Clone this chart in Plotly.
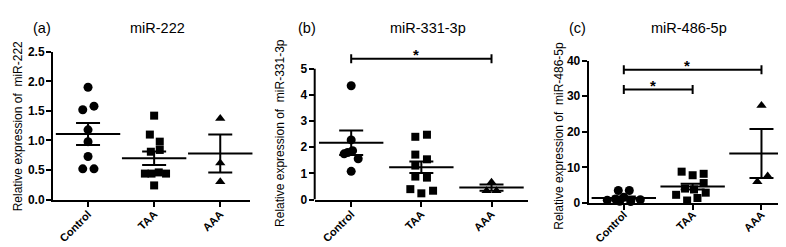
import plotly.graph_objects as go

categories = ["Control", "TAA", "AAA"]
panel_letters = ["(a)", "(b)", "(c)"]
panel_titles = ["miR-222", "miR-331-3p", "miR-486-5p"]
y_titles = ["Relative expression of\u00a0 miR-222",
            "Relative expression of\u00a0 miR-331-3p",
            "Relative expression of\u00a0 miR-486-5p"]

# ---- panel (a) miR-222 ----
a_control = [1.90, 1.52, 1.58, 1.18, 0.98, 0.73, 0.52, 0.52]
a_taa = [1.42, 1.10, 0.98, 0.81, 0.84, 0.44, 0.44, 0.46, 0.44, 0.24]
a_aaa = [1.37, 0.62, 0.30]
a_mean = [1.11, 0.70, 0.78]
a_sem = [0.185, 0.115, 0.32]
a_ticks = [0.0, 0.5, 1.0, 1.5, 2.0, 2.5]
a_ticktext = ["0.0", "0.5", "1.0", "1.5", "2.0", "2.5"]

# ---- panel (b) miR-331-3p ----
b_control = [4.35, 2.28, 1.87, 1.80, 1.75, 1.56, 1.08]
b_taa = [2.40, 2.48, 1.72, 1.54, 1.30, 0.88, 0.84, 0.40, 0.24, 0.34]
b_aaa = [0.66, 0.34, 0.34]
b_mean = [2.17, 1.24, 0.46]
b_sem = [0.47, 0.22, 0.12]
b_ticks = [0, 1, 2, 3, 4, 5]
b_ticktext = ["0", "1", "2", "3", "4", "5"]
b_sig = [(0, 2, 5.38)]

# ---- panel (c) miR-486-5p ----
c_control = [3.5, 3.5, 1.6, 1.1, 0.8, 0.5, 0.4, 0.9]
c_taa = [8.8, 7.8, 8.2, 5.6, 4.05, 3.8, 2.3, 2.9, 1.4, 0.7]
c_aaa = [27.4, 7.6, 6.0]
c_mean = [1.4, 4.6, 13.9]
c_sem = [0.45, 0.8, 6.9]
c_ticks = [0, 10, 20, 30, 40]
c_ticktext = ["0", "10", "20", "30", "40"]
c_sig = [(0, 2, 37.4), (0, 1, 31.9)]

# horizontal scatter (jitter) of points, in category units
a_jit = [[0, -0.08, 0.09, 0, 0, 0, -0.08, 0.09],
         [0, -0.065, 0.085, -0.05, 0.085, -0.14, -0.04, 0.07, 0.18, 0],
         [0, 0, 0]]
b_jit = [[0, 0, 0.02, -0.05, -0.1, 0.1, 0],
         [-0.086, 0.08, -0.086, 0.08, -0.086, -0.086, 0.08, -0.157, 0, 0.167],
         [0, -0.07, 0.07]]
c_jit = [[-0.08, 0.08, 0, -0.12, -0.24, -0.06, 0.1, 0.24],
         [-0.16, 0, 0.16, 0.16, -0.11, 0.02, -0.24, 0.19, 0.07, -0.08],
         [0, 0.09, -0.06]]

symbols = ["circle", "square", "triangle-up"]
sizes = [9, 8, 9]

panels = [
    dict(groups=[a_control, a_taa, a_aaa], jit=a_jit, mean=a_mean, sem=a_sem,
         ticks=a_ticks, ticktext=a_ticktext, yrange=[0, 2.5], sig=[], ytop=2.5,
         xdom=[45 / 786, 242 / 786], ydom=[1 - 195.7 / 247, 1 - 39 / 247],
         xrange=[-0.53, 2.45], standoff=-3),
    dict(groups=[b_control, b_taa, b_aaa], jit=b_jit, mean=b_mean, sem=b_sem,
         ticks=b_ticks, ticktext=b_ticktext, yrange=[0, 5.6], sig=b_sig, ytop=5,
         xdom=[306.7 / 786, 520 / 786], ydom=[1 - 195.7 / 247, 1 - 40.36 / 247],
         xrange=[-0.52, 2.52], standoff=-3),
    dict(groups=[c_control, c_taa, c_aaa], jit=c_jit, mean=c_mean, sem=c_sem,
         ticks=c_ticks, ticktext=c_ticktext, yrange=[0, 40], sig=c_sig, ytop=40,
         xdom=[580.7 / 786, 781.7 / 786], ydom=[1 - 199.3 / 247, 1 - 48.3 / 247],
         xrange=[-0.51, 2.41], standoff=-6),
]

fig = go.Figure()
shapes = []
annotations = []

tick_font = dict(family="Liberation Sans", size=12, color="black")
xtick_font = dict(family="Liberation Sans", size=11, color="black")


def bold(items):
    return ["<b>" + t + "</b>" for t in items]


for p_i, p in enumerate(panels):
    sfx = "" if p_i == 0 else str(p_i + 1)
    xa, ya = "x" + sfx, "y" + sfx
    for g_i, vals in enumerate(p["groups"]):
        xs = [g_i + j for j in p["jit"][g_i]]
        fig.add_trace(go.Scatter(
            x=xs, y=vals, mode="markers", xaxis=xa, yaxis=ya,
            marker=dict(symbol=symbols[g_i], size=sizes[g_i], color="black",
                        line=dict(width=0)),
            showlegend=False, cliponaxis=False))
    # mean line + SEM error bars
    fig.add_trace(go.Scatter(
        x=list(range(len(categories))), y=p["mean"], mode="markers",
        xaxis=xa, yaxis=ya,
        marker=dict(symbol="line-ew", size=46, color="black",
                    line=dict(width=2, color="black")),
        error_y=dict(type="data", array=p["sem"], visible=True,
                     color="black", thickness=2, width=12),
        showlegend=False, cliponaxis=False))

    axis_common = dict(showgrid=False, zeroline=False, ticks="outside",
                       ticklen=5, tickwidth=1.5, tickcolor="black",
                       linecolor="black", linewidth=2)
    fig.update_layout(**{
        ("xaxis" + sfx): dict(
            domain=p["xdom"], range=p["xrange"], anchor=ya,
            tickvals=list(range(len(categories))), ticktext=bold(categories),
            tickangle=-45, tickfont=xtick_font, showline=True,
            ticklabelstandoff=p["standoff"], **axis_common),
        ("yaxis" + sfx): dict(
            domain=p["ydom"], range=p["yrange"], anchor=xa,
            tickvals=p["ticks"], ticktext=bold(p["ticktext"]), tickfont=tick_font,
            showline=(p_i != 1), ticklabelstandoff=-1, **axis_common),
    })
    if p_i == 1:
        # y axis line only up to the last tick
        shapes.append(dict(type="line", xref=xa + " domain", yref=ya,
                           x0=0, x1=0, y0=p["yrange"][0], y1=p["ytop"],
                           line=dict(color="black", width=2)))
    # significance bars
    for (g0, g1, yv) in p["sig"]:
        shapes.append(dict(type="line", xref=xa, yref=ya, x0=g0, x1=g1,
                           y0=yv, y1=yv, line=dict(color="black", width=2)))
        for gx in (g0, g1):
            shapes.append(dict(type="line", xref=xa, yref=ya, x0=gx, x1=gx,
                               ysizemode="pixel", yanchor=yv, y0=-4.5, y1=4.5,
                               line=dict(color="black", width=2)))
        annotations.append(dict(xref=xa, yref=ya, x=(g0 + g1) / 2 - 0.08, y=yv,
                                text="<b>*</b>", showarrow=False, yanchor="middle",
                                yshift=4,
                                font=dict(family="Liberation Sans", size=15,
                                          color="black")))

title_font = dict(family="Liberation Sans", size=14.5, color="black")
letter_x = [34, 299, 569]
title_x = [149, 420, 681]
ytitle_x = [10, 272, 551]
ytitle_y = [118, 125, 128]
for i in range(3):
    annotations.append(dict(xref="paper", yref="paper", x=letter_x[i] / 786,
                            y=1 - 14 / 247, text=panel_letters[i],
                            showarrow=False, xanchor="center", yanchor="middle",
                            font=title_font))
    annotations.append(dict(xref="paper", yref="paper", x=title_x[i] / 786,
                            y=1 - 14 / 247, text=panel_titles[i],
                            showarrow=False, xanchor="center", yanchor="middle",
                            font=title_font))
    annotations.append(dict(xref="paper", yref="paper", x=ytitle_x[i] / 786,
                            y=1 - ytitle_y[i] / 247, text=y_titles[i],
                            textangle=-90, showarrow=False, xanchor="center",
                            yanchor="middle",
                            font=dict(family="Liberation Sans", size=12,
                                      color="black")))

fig.update_layout(width=786, height=247, margin=dict(l=0, r=0, t=0, b=0),
                  paper_bgcolor="white", plot_bgcolor="white",
                  shapes=shapes, annotations=annotations, showlegend=False)

fig.write_html("out.html")
